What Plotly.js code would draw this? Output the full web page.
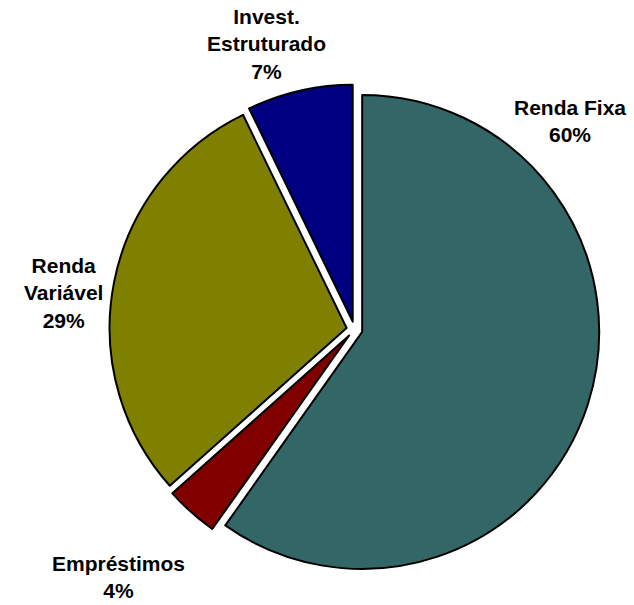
<!DOCTYPE html>
<html>
<head>
<meta charset="utf-8">
<script src="https://cdn.plot.ly/plotly-3.0.1.min.js"></script>
<style>html,body{margin:0;padding:0;background:#fff;}#chart{width:634px;height:605px;}</style>
</head>
<body>
<div id="chart"></div>
<script>
// Data
var categories = ["Renda Fixa", "Empréstimos", "Renda Variável", "Invest. Estruturado"];
var labelLines = ["Renda Fixa", "Empréstimos", "Renda<br>Variável", "Invest.<br>Estruturado"];
var values = [59.8, 3.6, 29.4, 7.2];
var colors = ["#336666", "#800000", "#808000", "#000080"];

// label positions (pixel centers in the 634x605 page)
var labelPos = [[570, 121], [118, 577], [63, 293], [266, 44]];

var W = 634, H = 605;
var total = values.reduce(function (a, b) { return a + b; }, 0);

var annotations = categories.map(function (c, i) {
  var pct = Math.round(values[i] / total * 100);
  return {
    text: "<b>" + labelLines[i] + "<br>" + pct + "%</b>",
    xref: "paper", yref: "paper",
    x: labelPos[i][0] / W, y: 1 - labelPos[i][1] / H,
    xanchor: "center", yanchor: "middle",
    showarrow: false, align: "center",
    font: {family: "Liberation Sans, Arial, sans-serif", size: 21, color: "#000"}
  };
});

// pie geometry
var cx = 354.5, cy = 329.5, R = 237, pull = 0.034;
var half = R * (1 + pull);

var trace = {
  type: "pie",
  labels: categories,
  values: values,
  sort: false,
  direction: "clockwise",
  rotation: 0,
  pull: [pull, pull, pull, pull],
  textinfo: "none",
  hoverinfo: "label+percent",
  marker: {colors: colors, line: {color: "#000", width: 2}},
  domain: {
    x: [(cx - half) / W, (cx + half) / W],
    y: [(H - cy - half) / H, (H - cy + half) / H]
  }
};

var layout = {
  width: W, height: H,
  margin: {l: 0, r: 0, t: 0, b: 0},
  paper_bgcolor: "#fff",
  plot_bgcolor: "#fff",
  showlegend: false,
  annotations: annotations
};

Plotly.newPlot("chart", [trace], layout, {displayModeBar: false, staticPlot: true});
</script>
</body>
</html>
